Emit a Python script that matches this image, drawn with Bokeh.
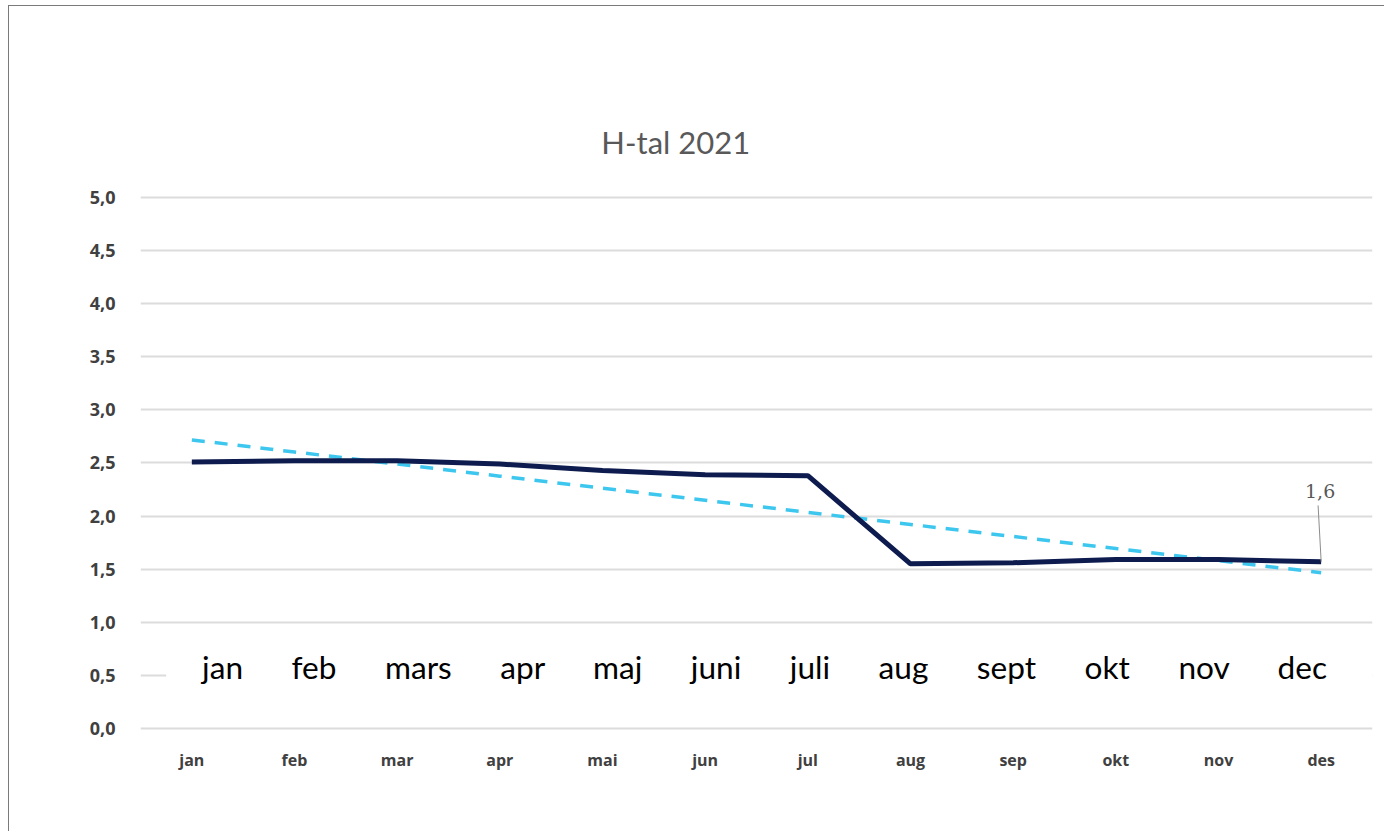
import numpy as np
from bokeh.plotting import figure
from bokeh.models import FixedTicker, Range1d
from bokeh.core.properties import value
from bokeh.embed import file_html
from bokeh.resources import INLINE

# ---- data ----
months_axis = ["jan", "feb", "mar", "apr", "mai", "jun", "jul", "aug", "sep", "okt", "nov", "des"]
months_overlay = ["jan", "feb", "mars", "apr", "maj", "juni", "juli", "aug", "sept", "okt", "nov", "dec"]
h_values = [2.51, 2.52, 2.52, 2.49, 2.43, 2.39, 2.38, 1.55, 1.56, 1.59, 1.59, 1.57]
y_ticks = [0.0, 0.5, 1.0, 1.5, 2.0, 2.5, 3.0, 3.5, 4.0, 4.5, 5.0]
y_tick_labels = ["0,0", "0,5", "1,0", "1,5", "2,0", "2,5", "3,0", "3,5", "4,0", "4,5", "5,0"]
title_text = "H-tal 2021"
last_label = "1,6"

x = list(range(len(months_axis)))
coef = np.polyfit(x, h_values, 1)          # linear trendline
trend = list(np.polyval(coef, x))

p = figure(width=1376, height=826, output_backend="svg", toolbar_location=None,
           x_range=Range1d(-0.5, 11.5), y_range=Range1d(-0.02, 5.82),
           min_border_left=131, min_border_right=13, min_border_top=104, min_border_bottom=102)
p.styles = {"border-top": "1px solid #7a7a7a", "border-left": "1px solid #7a7a7a",
            "margin-left": "8px", "margin-top": "5px"}
p.outline_line_color = None
p.background_fill_color = "white"
p.border_fill_color = "white"

# axes
p.xaxis.ticker = FixedTicker(ticks=x)
p.xaxis.major_label_overrides = {i: m for i, m in enumerate(months_axis)}
p.yaxis.ticker = FixedTicker(ticks=y_ticks)
p.yaxis.major_label_overrides = {t: l for t, l in zip(y_ticks, y_tick_labels)}
for ax in (p.xaxis, p.yaxis):
    ax.axis_line_color = None
    ax.major_tick_line_color = None
    ax.minor_tick_line_color = None
    ax.major_label_text_font = "Open Sans"
    ax.major_label_text_font_style = "bold"
    ax.major_label_text_color = "#404040"
p.xaxis.major_label_text_font_size = "16px"
p.yaxis.major_label_text_font_size = "18px"
p.xaxis.major_label_standoff = 12
p.yaxis.major_label_standoff = 19
p.xgrid.grid_line_color = None
p.ygrid.grid_line_color = "#dcdcdc"
p.ygrid.grid_line_width = 2

# title (inside the plotting area)
p.text(x=[4.714], y=[5.527], text=[title_text], text_align="center",
       text_baseline="middle", text_font=value("Lato"), text_font_size="31px",
       text_color="#595959")

# white text box with the pasted month names
p.quad(left=[-0.25], right=[11.5], bottom=[0.15], top=[0.92],
       fill_color="white", line_color=None)
p.text(x=[0.10], y=[0.58], text=[("\u00a0" * 6).join(months_overlay)], text_align="left",
       text_baseline="middle", text_font=value("Lato"), text_font_size="31.6px",
       text_color="black")

# lines
p.line(x, trend, line_color="#3ec7ee", line_width=3.5, line_dash="13 10")
p.line(x, h_values, line_color="#0d1b4e", line_width=5)

# data label with leader line
p.segment(x0=[x[-1]], y0=[h_values[-1]], x1=[x[-1] - 0.03], y1=[2.10],
          line_color="#8c8c8c", line_width=1)
p.text(x=[x[-1] - 0.01], y=[2.24], text=[last_label], text_align="center",
       text_baseline="middle", text_font=value("DejaVu Serif"),
       text_font_size="19px", text_color="#595959")

open("out.html", "w").write(file_html(p, INLINE))
